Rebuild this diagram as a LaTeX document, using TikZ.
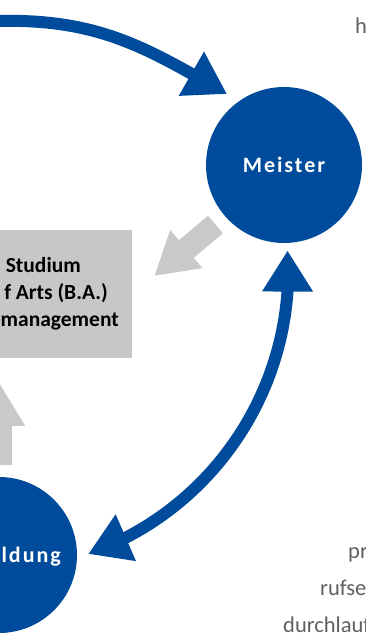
\documentclass[tikz,border=0pt]{standalone}
\usepackage{fontspec}
\setmainfont{Carlito}
\usetikzlibrary{calc}
\usetikzlibrary{arrows.meta}
\usetikzlibrary{bending}

\definecolor{hwblue}{RGB}{0,75,155}
\definecolor{hwgray}{RGB}{200,201,202}
\definecolor{hwbox}{RGB}{198,199,200}
\definecolor{hwtext}{RGB}{96,96,96}

\begin{document}
\begin{tikzpicture}[x=1pt, y=-1pt,
	stagefont/.style={font=\bfseries\fontsize{22}{22}\selectfont\addfontfeatures{LetterSpace=9}},
	stagenode/.style={circle, fill=hwblue, minimum size=156pt, inner sep=0pt, text=white, stagefont},
	loopline/.style={draw=hwblue, line width=12pt, -{Triangle[width=48pt,length=41pt,flex]}},
	hint/.style={draw=hwgray, line width=23pt, -{Triangle[width=47pt,length=42pt]}},
	boxtext/.style={inner sep=0pt, anchor=base east, font=\bfseries\fontsize{21.5}{21.5}\selectfont},
	sidetext/.style={inner sep=0pt, anchor=base west, text=hwtext, font=\fontsize{22.5}{22.5}\selectfont}]
	\useasboundingbox (0,0) rectangle (366,635);
	\clip (0,0) rectangle (366,635);

	% the two stages
	\node[stagenode] (meister) at (284,165) {Meister};
	\node[stagenode] (aus) at (-1,555) {};
		\node[inner sep=0pt, anchor=base east, text=white, stagefont] (auslabel) at (61,562) {ldung};

	% study box
	\node[fill=hwbox, minimum width=184pt, minimum height=128pt, inner sep=0pt] (study) at (40,294) {};
		\node[boxtext] (l1) at (81,272) {Studium};
		\node[boxtext] (l2) at (108,299) {f Arts (B.A.)};
		\node[boxtext] (l3) at (119,326) {management};

	% blue cycle
	\coordinate (src) at (-5,21);
	\coordinate (m1) at ($(meister)+(-57,-71)$);
	\draw[loopline] (src) .. controls (100,18) and (148,49) .. (m1);
	\coordinate (a1) at ($(aus.east)+(11,-1)$);
	\draw[loopline, {Triangle[width=48pt,length=41pt,flex]}-{Triangle[width=48pt,length=41pt,flex]}]
		(a1) arc[start angle=70.4, end angle=-3.8, radius=301];

	% gray hints
	\draw[hint] ($(meister)+(-68.5,59.5)$) -- ($(study.east)+(22,-18)$);
	\draw[hint] ($(aus.north)+(1,-12)$) -- ($(aus.north)+(1,-93)$);

	% cut-off text at the right
	\node[sidetext] (t1) at (355,33) {h};
	\node[sidetext] (t2) at (348,558) {pr};
	\node[sidetext] (t3) at (320,595) {rufse};
	\node[sidetext] (t4) at (283,632) {durchlauf};
\end{tikzpicture}
\end{document}
